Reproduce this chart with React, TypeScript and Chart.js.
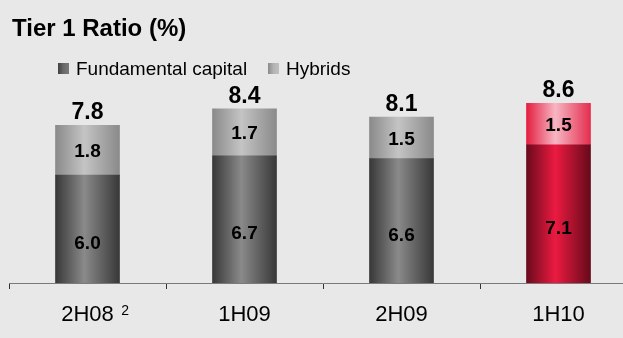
import React, { useEffect, useRef } from 'react';
import { Chart, registerables } from 'chart.js';

Chart.register(...registerables);

// Tier 1 ratio split into its two components, per half-year
const categories = ['2H08', '1H09', '2H09', '1H10'];
const footnotes = ['2', '', '', ''];
const fundamentalCapital = [6.0, 6.7, 6.6, 7.1];
const hybrids = [1.8, 1.7, 1.5, 1.5];
const highlightedCategory = '1H10';

const FONT = '"Liberation Sans", Arial, Helvetica, sans-serif';
const BG = '#e8e8e8';
const BAR_WIDTH = 64;
const CANVAS_W = 640;
const CANVAS_H = 338;

type Stops = [string, string, string];
const palette: Record<string, { normal: Stops; highlight: Stops }> = {
  fundamental: {
    normal: ['#383838', '#8a8a8a', '#383838'],
    highlight: ['#6a0a1c', '#ec1a41', '#660a1a'],
  },
  hybrids: {
    normal: ['#8a8a8a', '#c4c4c4', '#8a8a8a'],
    highlight: ['#e41f40', '#f7b6c4', '#e42e4e'],
  },
};

// Horizontal gradient across one bar, giving the rounded "cylinder" shading
function cylinderFill(key: string) {
  return (ctx: any) => {
    const chart = ctx.chart;
    const idx = ctx.dataIndex ?? 0;
    const set = categories[idx] === highlightedCategory ? palette[key].highlight : palette[key].normal;
    const xScale = chart.scales?.x;
    if (!xScale || ctx.dataIndex === undefined) return set[1];
    const cx = xScale.getPixelForValue(idx);
    if (!Number.isFinite(cx)) return set[1];
    const g = chart.ctx.createLinearGradient(cx - BAR_WIDTH / 2, 0, cx + BAR_WIDTH / 2, 0);
    g.addColorStop(0, set[0]);
    g.addColorStop(0.45, set[1]);
    g.addColorStop(1, set[2]);
    return g;
  };
}

const decorPlugin = {
  id: 'decor',
  beforeDraw(chart: any) {
    const { ctx } = chart;
    ctx.save();
    ctx.fillStyle = BG;
    ctx.fillRect(0, 0, chart.width, chart.height);
    ctx.restore();
  },
  afterDatasetsDraw(chart: any) {
    const { ctx, chartArea } = chart;
    ctx.save();
    ctx.fillStyle = '#000';
    ctx.textAlign = 'center';
    ctx.textBaseline = 'alphabetic';

    // segment values
    ctx.font = `bold 19px ${FONT}`;
    [fundamentalCapital, hybrids].forEach((values, di) => {
      const meta = chart.getDatasetMeta(di);
      meta.data.forEach((bar: any, i: number) => {
        const top = Math.min(bar.y, bar.base);
        const bottom = Math.min(Math.max(bar.y, bar.base), chartArea.bottom);
        const mid = (top + bottom) / 2 + (di === 0 ? 13 : 0);
        ctx.fillText(values[i].toFixed(1), bar.x, mid + 7);
      });
    });

    // totals above each stack
    ctx.font = `bold 23px ${FONT}`;
    const topMeta = chart.getDatasetMeta(1);
    topMeta.data.forEach((bar: any, i: number) => {
      const total = fundamentalCapital[i] + hybrids[i];
      ctx.fillText(total.toFixed(1), bar.x, bar.y - 6);
    });
    ctx.restore();
  },
  afterDraw(chart: any) {
    const { ctx } = chart;
    ctx.save();
    ctx.fillStyle = '#000';
    ctx.textBaseline = 'alphabetic';
    ctx.textAlign = 'left';

    // title
    ctx.font = `bold 24px ${FONT}`;
    ctx.fillText('Tier 1 Ratio (%)', 12, 36);

    // legend
    const legendItems = [
      { label: 'Fundamental capital', stops: ['#404040', '#6a6a6a', '#7a7a7a'], box: 58 },
      { label: 'Hybrids', stops: ['#8a8a8a', '#b4b4b4', '#c0c0c0'], box: 268 },
    ];
    ctx.font = `19px ${FONT}`;
    legendItems.forEach((item) => {
      const g = ctx.createLinearGradient(item.box, 0, item.box + 11, 0);
      g.addColorStop(0, item.stops[0]);
      g.addColorStop(0.5, item.stops[1]);
      g.addColorStop(1, item.stops[2]);
      ctx.fillStyle = g;
      ctx.fillRect(item.box, 63, 11, 11);
      ctx.fillStyle = '#000';
      ctx.fillText(item.label, item.box + 18, 75);
    });

    // footnote markers next to category labels
    const xScale = chart.scales.x;
    footnotes.forEach((mark, i) => {
      if (!mark) return;
      ctx.font = `22px ${FONT}`;
      const w = ctx.measureText(categories[i]).width;
      const cx = xScale.getPixelForValue(i);
      ctx.font = `14px ${FONT}`;
      ctx.fillText(mark, cx + w / 2 + 7.5, 315);
    });
    ctx.restore();
  },
};

export default function App() {
  const canvasRef = useRef<HTMLCanvasElement | null>(null);

  useEffect(() => {
    document.documentElement.style.overflow = 'hidden';
    document.body.style.margin = '0';
    document.body.style.overflow = 'hidden';
    document.body.style.background = BG;

    const canvas = canvasRef.current;
    if (!canvas) return;
    Chart.defaults.font.family = FONT;

    const chart = new Chart(canvas, {
      type: 'bar',
      data: {
        labels: categories,
        datasets: [
          {
            label: 'Fundamental capital',
            data: fundamentalCapital,
            backgroundColor: cylinderFill('fundamental'),
            barThickness: BAR_WIDTH,
            borderWidth: 0,
          },
          {
            label: 'Hybrids',
            data: hybrids,
            backgroundColor: cylinderFill('hybrids'),
            barThickness: BAR_WIDTH,
            borderWidth: 0,
          },
        ],
      },
      options: {
        responsive: false,
        animation: false,
        devicePixelRatio: 1,
        layout: { padding: { top: 59, left: 9, right: 3, bottom: 0 } },
        plugins: {
          legend: { display: false },
          title: { display: false },
          tooltip: { enabled: false },
        },
        scales: {
          x: {
            stacked: true,
            offset: true,
            grid: {
              display: true,
              offset: true,
              drawOnChartArea: false,
              drawTicks: true,
              tickLength: 6,
              color: '#333333',
              lineWidth: 1,
            },
            border: { display: true, color: '#7a7a7a', width: 1 },
            ticks: {
              color: '#000',
              font: { size: 22, family: FONT },
              padding: 13,
              maxRotation: 0,
              autoSkip: false,
            },
            afterFit: (scale: any) => {
              scale.height = 55;
            },
          },
          y: {
            stacked: true,
            display: false,
            min: 2.1,
            max: 10.2,
          },
        },
      },
      plugins: [decorPlugin],
    });

    return () => chart.destroy();
  }, []);

  return (
    <div style={{ width: CANVAS_W, height: CANVAS_H, overflow: 'hidden' }}>
      <canvas ref={canvasRef} width={CANVAS_W} height={CANVAS_H} style={{ display: 'block' }} />
    </div>
  );
}
